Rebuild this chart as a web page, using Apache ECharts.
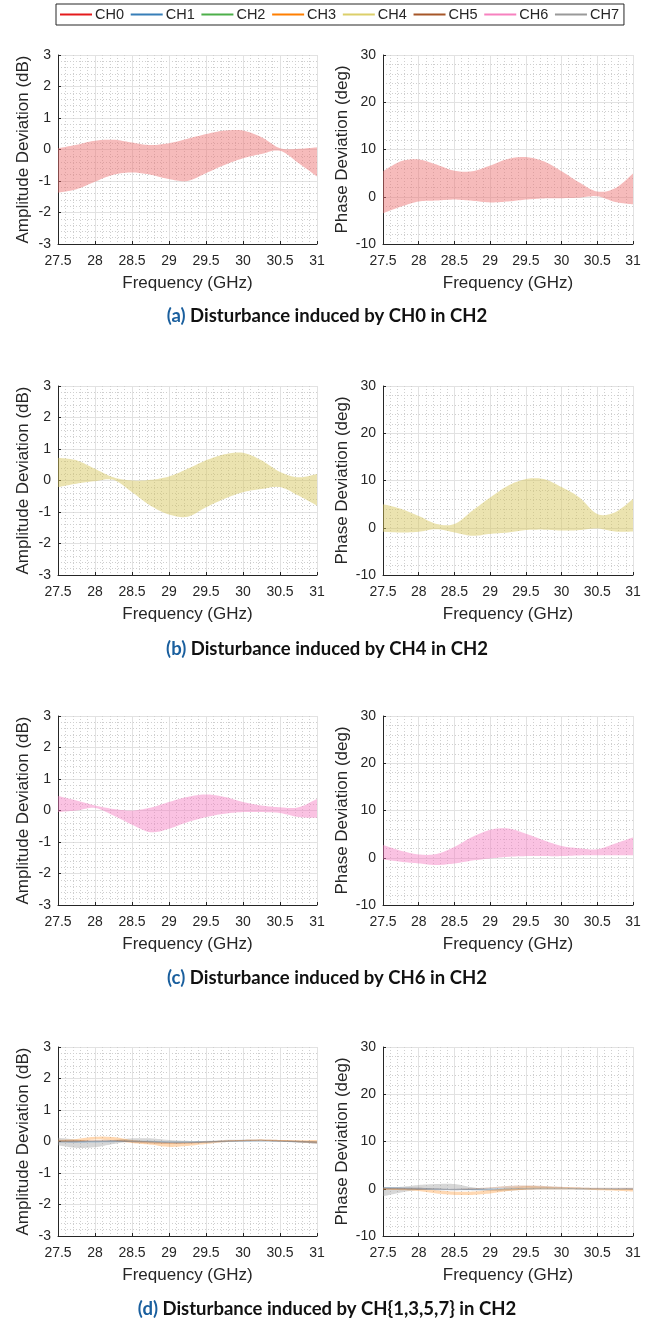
<!DOCTYPE html>
<html>
<head>
<meta charset="utf-8">
<script src="https://cdn.jsdelivr.net/npm/echarts@6/dist/echarts.min.js"></script>
<style>
html,body{margin:0;padding:0;background:#fff;}
#chart{width:654px;height:1319px;}
</style>
</head>
<body>
<div id="chart"></div>
<script>
// ---------- data ----------
const channels = ['CH0','CH1','CH2','CH3','CH4','CH5','CH6','CH7'];
const freq = [27.5,27.75,28,28.25,28.5,28.75,29,29.25,29.5,29.75,30,30.25,30.5,30.75,31];

// (a) CH0 -> CH2
const aAmpHi = [0.04,0.15,0.28,0.31,0.22,0.14,0.2,0.34,0.49,0.6,0.6,0.39,0.04,0.02,0.07];
const aAmpLo = [-1.37,-1.26,-1.02,-0.8,-0.73,-0.8,-0.94,-1.0,-0.75,-0.49,-0.28,-0.14,-0.04,-0.43,-0.86];
const aPhHi = [5.4,7.5,7.9,6.8,5.5,5.4,6.6,8.0,8.4,7.5,5.4,3.0,1.1,1.8,4.9];
const aPhLo = [-3.5,-2.1,-1.0,-0.8,-0.6,-0.85,-1.2,-1.0,-0.6,-0.35,-0.3,-0.2,0.1,-1.1,-1.6];
// (b) CH4 -> CH2
const bAmpHi = [0.72,0.64,0.37,0.1,0.0,0.02,0.13,0.37,0.64,0.83,0.88,0.64,0.27,0.1,0.21];
const bAmpLo = [-0.21,-0.1,-0.02,0.02,-0.37,-0.8,-1.08,-1.15,-0.85,-0.58,-0.37,-0.27,-0.21,-0.48,-0.8];
const bPhHi = [5.0,4.0,2.5,0.8,0.8,3.6,6.4,8.9,10.3,10.3,8.6,6.4,2.9,3.3,6.1];
const bPhLo = [-0.85,-1.0,-0.85,-0.3,-1.0,-1.7,-1.3,-1.0,-0.5,-0.4,-0.6,-0.5,-0.15,-0.8,-0.8];
// (c) CH6 -> CH2
const cAmpHi = [0.46,0.32,0.16,0.05,0.0,0.09,0.27,0.43,0.51,0.43,0.27,0.16,0.1,0.1,0.37];
const cAmpLo = [-0.05,0.0,0.08,-0.16,-0.45,-0.69,-0.58,-0.37,-0.21,-0.1,-0.05,-0.05,-0.08,-0.21,-0.23];
const cPhHi = [2.7,1.5,0.7,0.8,2.3,4.4,5.9,6.2,5.1,3.7,2.5,2.0,1.8,3.0,4.3];
const cPhLo = [-0.35,-0.85,-1.2,-1.55,-1.2,-0.6,-0.15,0.2,0.35,0.35,0.35,0.5,0.55,0.55,0.55];
// (d) CH{1,3,5,7} -> CH2
const d7AmpHi = [0.12,0.06,0.02,0.05,0.1,0.1,0.05,0.02,0.02,0.05,0.06,0.06,0.05,0.03,0.0];
const d7AmpLo = [-0.12,-0.2,-0.18,-0.08,0.0,-0.02,-0.04,-0.05,-0.03,0.0,0.02,0.02,0.0,-0.03,-0.08];
const d3AmpHi = [0.05,0.08,0.15,0.14,0.05,0.0,-0.03,-0.03,0.0,0.03,0.05,0.06,0.05,0.04,0.05];
const d3AmpLo = [-0.02,0.0,0.06,0.04,-0.05,-0.1,-0.17,-0.14,-0.08,-0.02,0.01,0.02,0.0,-0.02,-0.05];
const d5AmpHi = [0.04,0.04,0.05,0.05,0.03,0.0,-0.02,-0.02,0.0,0.03,0.05,0.06,0.04,0.02,0.0];
const d5AmpLo = [-0.02,-0.02,0.0,0.0,-0.03,-0.06,-0.08,-0.07,-0.04,-0.01,0.01,0.02,0.0,-0.03,-0.06];
const d1AmpHi = [0.03,0.02,0.02,0.03,0.03,0.02,0.0,0.0,0.01,0.02,0.03,0.03,0.02,0.01,0.0];
const d1AmpLo = [-0.03,-0.04,-0.03,-0.02,-0.02,-0.03,-0.05,-0.05,-0.04,-0.02,-0.01,0.0,-0.01,-0.03,-0.04];
const d7PhHi = [0.3,0.4,0.8,1.0,1.0,0.3,-0.1,0.0,0.2,0.3,0.2,0.1,0.0,0.0,0.0];
const d7PhLo = [-1.6,-0.8,-0.2,0.0,0.0,-0.3,-0.5,-0.4,-0.2,0.0,0.0,-0.1,-0.1,-0.2,-0.2];
const d3PhHi = [0.2,0.1,0.0,-0.3,-0.6,-0.6,-0.3,0.2,0.5,0.4,0.3,0.2,0.1,0.0,0.0];
const d3PhLo = [-0.2,-0.3,-0.5,-1.0,-1.3,-1.3,-1.0,-0.5,-0.2,-0.1,-0.1,-0.1,-0.3,-0.4,-0.6];
const d5PhHi = [0.2,0.2,0.2,0.1,0.0,0.1,0.3,0.6,0.7,0.6,0.4,0.3,0.2,0.2,0.2];
const d5PhLo = [-0.1,-0.1,-0.2,-0.2,-0.3,-0.2,0.0,0.2,0.3,0.3,0.2,0.1,0.0,0.0,-0.1];
const d1PhHi = [0.4,0.3,0.2,0.1,0.0,0.0,0.1,0.2,0.2,0.2,0.2,0.1,0.1,0.1,0.1];
const d1PhLo = [0.0,-0.1,-0.2,-0.3,-0.3,-0.3,-0.2,-0.1,0.0,0.0,0.0,-0.1,-0.1,-0.1,-0.1];

const captionTags = ['(a)', '(b)', '(c)', '(d)'];
const captionTexts = [
  'Disturbance induced by CH0 in CH2',
  'Disturbance induced by CH4 in CH2',
  'Disturbance induced by CH6 in CH2',
  'Disturbance induced by CH{1,3,5,7} in CH2'
];

// ---------- styling ----------
const lineColors = ['#e41a1c','#377eb8','#4daf4a','#ff7f00','#dccf6a','#a65628','#f781bf','#999999'];
const fillColors = {
  CH0:'rgba(236,112,112,0.48)', CH1:'rgba(55,126,184,0.30)', CH3:'rgba(255,127,0,0.30)',
  CH4:'rgba(214,196,90,0.48)', CH5:'rgba(166,86,40,0.30)', CH6:'rgba(244,120,190,0.45)',
  CH7:'rgba(150,150,150,0.38)'
};

const panels = [
  {bands:[['CH0',aAmpHi,aAmpLo]], amp:true},
  {bands:[['CH0',aPhHi,aPhLo]], amp:false},
  {bands:[['CH4',bAmpHi,bAmpLo]], amp:true},
  {bands:[['CH4',bPhHi,bPhLo]], amp:false},
  {bands:[['CH6',cAmpHi,cAmpLo]], amp:true},
  {bands:[['CH6',cPhHi,cPhLo]], amp:false},
  {bands:[['CH7',d7AmpHi,d7AmpLo],['CH3',d3AmpHi,d3AmpLo],['CH5',d5AmpHi,d5AmpLo],['CH1',d1AmpHi,d1AmpLo]], amp:true},
  {bands:[['CH7',d7PhHi,d7PhLo],['CH3',d3PhHi,d3PhLo],['CH5',d5PhHi,d5PhLo],['CH1',d1PhHi,d1PhLo]], amp:false}
];

const rowTops = [55, 386, 716, 1047];
const captionY = [302, 635, 964, 1295];
const textCol = '#262626';
const font = 'Liberation Sans, Arial, sans-serif';

// Catmull-Rom smoothing of already-projected pixel points (rendering only)
function smoothPx(P) {
  const out = [];
  const n = P.length, steps = 10;
  for (let i = 0; i < n - 1; i++) {
    const p0 = P[Math.max(i - 1, 0)], p1 = P[i], p2 = P[i + 1], p3 = P[Math.min(i + 2, n - 1)];
    for (let s = 0; s < steps; s++) {
      const t = s / steps, t2 = t * t, t3 = t2 * t;
      const f = (a, b, c, d) => 0.5 * ((2 * b) + (-a + c) * t + (2 * a - 5 * b + 4 * c - d) * t2 + (-a + 3 * b - 3 * c + d) * t3);
      out.push([f(p0[0], p1[0], p2[0], p3[0]), f(p0[1], p1[1], p2[1], p3[1])]);
    }
  }
  out.push(P[n - 1]);
  return out;
}

function bandRenderer(hi, lo, color) {
  return function (params, api) {
    const top = freq.map((f, j) => api.coord([f, hi[j]]));
    const bot = freq.map((f, j) => api.coord([f, lo[j]]));
    const pts = smoothPx(top).concat(smoothPx(bot).reverse());
    return {type: 'polygon', shape: {points: pts}, style: {fill: color, stroke: null}, silent: true};
  };
}

const grids = [], xAxes = [], yAxes = [], series = [], titles = [];

panels.forEach((p, i) => {
  const row = Math.floor(i / 2), col = i % 2;
  grids.push({
    left: col === 0 ? 58 : 383,
    width: col === 0 ? 259 : 250,
    top: rowTops[row],
    height: 189
  });
  xAxes.push({
    type: 'value', gridIndex: i, min: 27.5, max: 31, interval: 0.5,
    name: 'Frequency (GHz)', nameLocation: 'middle', nameGap: 31,
    nameTextStyle: {color: textCol, fontSize: 17, fontFamily: font},
    axisLine: {show: true, onZero: false, lineStyle: {color: textCol, width: 1}},
    axisTick: {show: true, inside: true, length: 3, lineStyle: {color: textCol}},
    axisLabel: {color: textCol, fontSize: 14, fontFamily: font, margin: 10,
      showMinLabel: true, showMaxLabel: true},
    splitLine: {show: true, lineStyle: {color: '#e2e2e2', width: 1}},
    minorTick: {show: false, splitNumber: 5},
    minorSplitLine: {show: true, lineStyle: {color: '#cfcfcf', width: 1, type: [1, 2]}}
  });
  yAxes.push({
    type: 'value', gridIndex: i,
    min: p.amp ? -3 : -10, max: p.amp ? 3 : 30, interval: p.amp ? 1 : 10,
    name: p.amp ? 'Amplitude Deviation (dB)' : 'Phase Deviation (deg)',
    nameLocation: 'middle', nameGap: p.amp ? 26 : 32,
    nameTextStyle: {color: textCol, fontSize: 17, fontFamily: font},
    axisLine: {show: true, onZero: false, lineStyle: {color: textCol, width: 1}},
    axisTick: {show: true, inside: true, length: 3, lineStyle: {color: textCol}},
    axisLabel: {color: textCol, fontSize: 14, fontFamily: font, margin: 7},
    splitLine: {show: true, lineStyle: {color: '#e2e2e2', width: 1}},
    minorTick: {show: false, splitNumber: 5},
    minorSplitLine: {show: true, lineStyle: {color: '#cfcfcf', width: 1, type: [1, 2]}}
  });
  p.bands.forEach(([ch, hi, lo], k) => {
    series.push({
      type: 'custom', name: 'band_' + i + '_' + k, xAxisIndex: i, yAxisIndex: i,
      clip: true, silent: true, z: 2,
      data: [[freq[0], hi[0]]],
      renderItem: bandRenderer(hi, lo, fillColors[ch])
    });
  });
});

// legend entries
channels.forEach((ch, k) => {
  series.push({
    type: 'line', name: ch, xAxisIndex: 0, yAxisIndex: 0, data: [],
    symbol: 'none', color: lineColors[k], lineStyle: {color: lineColors[k], width: 2}
  });
});

captionTags.forEach((tag, r) => {
  titles.push({
    left: 'center', top: captionY[r],
    text: '{a|' + tag + '} ' + captionTexts[r],
    textStyle: {
      color: '#111', fontSize: 18.5, fontWeight: 'bold', fontFamily: 'Lato, Open Sans, sans-serif',
      rich: {
        a: {color: '#1a5f9e', fontSize: 18.5, fontWeight: 'bold', fontFamily: 'Lato, Open Sans, sans-serif'}
      }
    }
  });
});

const chart = echarts.init(document.getElementById('chart'), null, {renderer: 'canvas'});
chart.setOption({
  animation: false,
  backgroundColor: '#fff',
  title: titles,
  legend: {
    data: channels.map(n => ({name: n, icon: 'rect'})),
    left: 56, top: 4, padding: [3, 5, 3, 4], itemGap: 6.7,
    itemWidth: 32, itemHeight: 2, borderColor: '#262626', borderWidth: 1,
    selectedMode: false,
    textStyle: {color: textCol, fontSize: 14.5, fontFamily: font, padding: [0, 0, 0, -2]}
  },
  grid: grids, xAxis: xAxes, yAxis: yAxes, series: series
});
</script>
</body>
</html>
